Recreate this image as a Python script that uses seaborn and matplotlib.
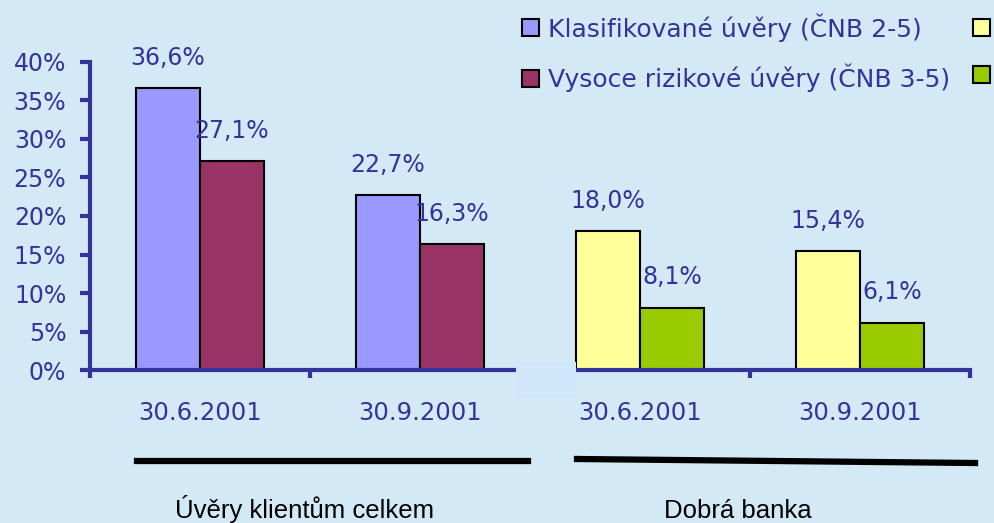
import pandas as pd
import matplotlib.pyplot as plt
import seaborn as sns
from matplotlib.patches import Patch, Rectangle
from matplotlib.lines import Line2D

# data (percent)
dates = ['30.6.2001', '30.9.2001', '30.6.2001 ', '30.9.2001 ']
tick_labels = ['30.6.2001', '30.9.2001', '30.6.2001', '30.9.2001']
series = ['Klasifikované úvěry (ČNB 2-5)', 'Vysoce rizikové úvěry (ČNB 3-5)']
klasifikovane = [36.6, 22.7, 18.0, 15.4]
rizikove = [27.1, 16.3, 8.1, 6.1]
groups = ['Úvěry klientům celkem', 'Dobrá banka']

bg = '#D3E9F6'
txt = '#333399'
colors_total = ['#9999FF', '#993366']
colors_good = ['#FFFF99', '#99CC00']

df = pd.DataFrame({
    'date': dates * 2,
    'series': [series[0]] * 4 + [series[1]] * 4,
    'value': klasifikovane + rizikove,
})
df_total = df[df['date'].isin(dates[:2])]
df_good = df[df['date'].isin(dates[2:])]

plt.rcParams['font.family'] = ['DejaVu Sans']
fig = plt.figure(figsize=(9.94, 5.23), dpi=100, facecolor=bg)
ax = fig.add_axes([0.0905, 0.2925, 0.8853, 0.589])
ax.set_facecolor(bg)

kw = dict(x='date', y='value', hue='series', hue_order=series, order=dates,
          width=0.58, edgecolor='black', linewidth=1.5, saturation=1,
          legend=False, ax=ax)
sns.barplot(data=df_total, palette=dict(zip(series, colors_total)), **kw)
sns.barplot(data=df_good, palette=dict(zip(series, colors_good)), **kw)

for p in ax.patches:
    h = p.get_height()
    if h > 0:
        ax.annotate(f'{h:.1f}'.replace('.', ',') + '%',
                    (p.get_x() + p.get_width() / 2, h),
                    xytext=(0, 22), textcoords='offset points',
                    ha='center', va='center', fontsize=17, color=txt)

ax.set_xlim(-0.5, 3.5)
ax.set_ylim(0, 40)
ax.set_yticks(range(0, 41, 5))
ax.set_yticklabels([f'{v}%' for v in range(0, 41, 5)])
ax.set_xticks(range(4))
ax.set_xticklabels(tick_labels)
ax.set_xticks([-0.5, 0.5, 1.5, 2.5, 3.5], minor=True)
ax.tick_params(axis='x', which='major', length=0, pad=22, labelsize=17.5, labelcolor=txt)
ax.tick_params(axis='x', which='minor', length=6, width=3, color=txt, direction='out')
ax.tick_params(axis='y', length=7, width=3, color=txt, pad=10, labelsize=17, labelcolor=txt)
ax.set_xlabel('')
ax.set_ylabel('')
for s in ['top', 'right']:
    ax.spines[s].set_visible(False)
for s in ['left', 'bottom']:
    ax.spines[s].set_color(txt)
    ax.spines[s].set_linewidth(3)

# legend (right column runs off the figure edge, only its markers show)
handles = [Patch(facecolor=c, edgecolor='black', linewidth=1.5)
           for c in colors_total + colors_good]
fig.legend(handles, series + ['', ''], loc='upper left',
           bbox_to_anchor=(522 / 994, 1 - 13 / 523), ncol=2, frameon=False,
           fontsize=18, labelcolor=txt, handlelength=0.66, handleheight=0.66,
           handletextpad=0.4, labelspacing=0.9, columnspacing=0.9,
           borderpad=0, borderaxespad=0)

# patch covering axis gap
fig.patches.append(Rectangle((516 / 994, 1 - 398 / 523), 60 / 994, 36 / 523,
                             transform=fig.transFigure, facecolor='#D0E6FA',
                             edgecolor='none', zorder=5))

# group underlines and labels
fig.add_artist(Line2D([137 / 994, 528 / 994], [1 - 461 / 523] * 2,
                      color='black', lw=4.5, transform=fig.transFigure))
fig.add_artist(Line2D([577 / 994, 975 / 994], [1 - 459 / 523, 1 - 463 / 523],
                      color='black', lw=4.5, transform=fig.transFigure))
bottom_font = ['Liberation Sans']
fig.text(305 / 994, 1 - 518 / 523, groups[0], ha='center', va='baseline',
         fontsize=18.5, color='black', family=bottom_font)
fig.text(738 / 994, 1 - 518 / 523, groups[1], ha='center', va='baseline',
         fontsize=18.5, color='black', family=bottom_font)

fig.savefig('out.png', dpi=100, facecolor=bg)
